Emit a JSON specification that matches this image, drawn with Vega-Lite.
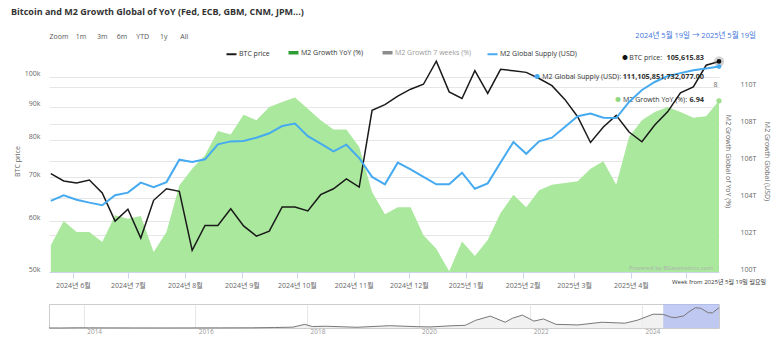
{
  "$schema": "https://vega.github.io/schema/vega-lite/v6.json",
  "padding": {"left": 11, "top": 8, "right": 1, "bottom": 2},
  "background": "white",
  "title": {"text": "Bitcoin and M2 Growth Global of YoY (Fed, ECB, GBM, CNM, JPM...)", "anchor": "start", "fontSize": 9, "fontWeight": "bold", "color": "#333333", "dx": -2, "offset": 15, "frame": "bounds"},
  "config": {
    "font": "Open Sans, Noto Sans CJK KR, sans-serif",
    "view": {"stroke": null},
    "axis": {"labelFontSize": 7, "titleFontSize": 7, "titleFontWeight": "normal", "labelColor": "#666666", "titleColor": "#666666", "gridColor": "#e6e6e6", "gridWidth": 1, "domainColor": "#ccd6eb", "tickColor": "#ccd6eb"}
  },
  "datasets": {
    "weekly": [
      {"date":"2024-05-20","btc":70900,"m2_yoy":1.08,"m2_supply":103840000000000},
      {"date":"2024-05-27","btc":69100,"m2_yoy":2.07,"m2_supply":104150000000000},
      {"date":"2024-06-03","btc":68600,"m2_yoy":1.62,"m2_supply":103910000000000},
      {"date":"2024-06-10","btc":69300,"m2_yoy":1.62,"m2_supply":103750000000000},
      {"date":"2024-06-17","btc":66200,"m2_yoy":1.22,"m2_supply":103610000000000},
      {"date":"2024-06-24","btc":59900,"m2_yoy":2.30,"m2_supply":104150000000000},
      {"date":"2024-07-01","btc":62500,"m2_yoy":2.16,"m2_supply":104290000000000},
      {"date":"2024-07-08","btc":56400,"m2_yoy":2.27,"m2_supply":104830000000000},
      {"date":"2024-07-15","btc":64500,"m2_yoy":0.81,"m2_supply":104590000000000},
      {"date":"2024-07-22","btc":67200,"m2_yoy":1.62,"m2_supply":104860000000000},
      {"date":"2024-07-29","btc":66600,"m2_yoy":3.51,"m2_supply":106070000000000},
      {"date":"2024-08-05","btc":54000,"m2_yoy":4.19,"m2_supply":105950000000000},
      {"date":"2024-08-12","btc":59000,"m2_yoy":4.73,"m2_supply":106090000000000},
      {"date":"2024-08-19","btc":59000,"m2_yoy":5.72,"m2_supply":106900000000000},
      {"date":"2024-08-26","btc":62600,"m2_yoy":5.57,"m2_supply":107060000000000},
      {"date":"2024-09-02","btc":58900,"m2_yoy":6.38,"m2_supply":107080000000000},
      {"date":"2024-09-09","btc":56800,"m2_yoy":6.15,"m2_supply":107260000000000},
      {"date":"2024-09-16","btc":57800,"m2_yoy":6.69,"m2_supply":107500000000000},
      {"date":"2024-09-23","btc":63000,"m2_yoy":6.89,"m2_supply":107890000000000},
      {"date":"2024-09-30","btc":63000,"m2_yoy":7.07,"m2_supply":108020000000000},
      {"date":"2024-10-07","btc":62100,"m2_yoy":6.62,"m2_supply":107340000000000},
      {"date":"2024-10-14","btc":65800,"m2_yoy":6.15,"m2_supply":106940000000000},
      {"date":"2024-10-21","btc":67200,"m2_yoy":5.78,"m2_supply":106520000000000},
      {"date":"2024-10-28","btc":69600,"m2_yoy":5.78,"m2_supply":106880000000000},
      {"date":"2024-11-04","btc":67600,"m2_yoy":5.07,"m2_supply":106160000000000},
      {"date":"2024-11-11","btc":88800,"m2_yoy":3.24,"m2_supply":105140000000000},
      {"date":"2024-11-18","btc":90600,"m2_yoy":2.34,"m2_supply":104740000000000},
      {"date":"2024-11-25","btc":93400,"m2_yoy":2.63,"m2_supply":105910000000000},
      {"date":"2024-12-02","btc":95700,"m2_yoy":2.63,"m2_supply":105550000000000},
      {"date":"2024-12-09","btc":97400,"m2_yoy":1.49,"m2_supply":105140000000000},
      {"date":"2024-12-16","btc":105700,"m2_yoy":0.94,"m2_supply":104740000000000},
      {"date":"2024-12-23","btc":94800,"m2_yoy":0.03,"m2_supply":104740000000000},
      {"date":"2024-12-30","btc":92600,"m2_yoy":1.24,"m2_supply":105370000000000},
      {"date":"2025-01-06","btc":102200,"m2_yoy":0.65,"m2_supply":104500000000000},
      {"date":"2025-01-13","btc":94300,"m2_yoy":1.30,"m2_supply":104790000000000},
      {"date":"2025-01-20","btc":102700,"m2_yoy":2.39,"m2_supply":105920000000000},
      {"date":"2025-01-27","btc":102200,"m2_yoy":3.13,"m2_supply":107030000000000},
      {"date":"2025-02-03","btc":101600,"m2_yoy":2.63,"m2_supply":106390000000000},
      {"date":"2025-02-10","btc":99400,"m2_yoy":3.31,"m2_supply":107060000000000},
      {"date":"2025-02-17","btc":96900,"m2_yoy":3.54,"m2_supply":107260000000000},
      {"date":"2025-02-24","btc":92300,"m2_yoy":3.61,"m2_supply":107840000000000},
      {"date":"2025-03-03","btc":86800,"m2_yoy":3.68,"m2_supply":108420000000000},
      {"date":"2025-03-10","btc":79200,"m2_yoy":4.19,"m2_supply":108560000000000},
      {"date":"2025-03-17","btc":83700,"m2_yoy":4.49,"m2_supply":108340000000000},
      {"date":"2025-03-24","btc":87200,"m2_yoy":3.54,"m2_supply":108320000000000},
      {"date":"2025-03-31","btc":82200,"m2_yoy":5.47,"m2_supply":109190000000000},
      {"date":"2025-04-07","btc":79400,"m2_yoy":6.15,"m2_supply":109840000000000},
      {"date":"2025-04-14","btc":84300,"m2_yoy":6.49,"m2_supply":110270000000000},
      {"date":"2025-04-21","btc":88300,"m2_yoy":6.69,"m2_supply":110590000000000},
      {"date":"2025-04-28","btc":94500,"m2_yoy":6.49,"m2_supply":110750000000000},
      {"date":"2025-05-05","btc":96500,"m2_yoy":6.25,"m2_supply":110900000000000},
      {"date":"2025-05-12","btc":104200,"m2_yoy":6.31,"m2_supply":111000000000000},
      {"date":"2025-05-19","btc":105615.83,"m2_yoy":6.94,"m2_supply":111105851732077}
    ],
    "history": [
      {"date":"2013-05-19","btc":120},
      {"date":"2013-08-01","btc":100},
      {"date":"2013-11-30","btc":1100},
      {"date":"2014-02-01","btc":800},
      {"date":"2014-06-01","btc":620},
      {"date":"2014-12-01","btc":380},
      {"date":"2015-06-01","btc":230},
      {"date":"2015-12-01","btc":420},
      {"date":"2016-06-15","btc":700},
      {"date":"2017-01-01","btc":1000},
      {"date":"2017-06-01","btc":2500},
      {"date":"2017-10-01","btc":4400},
      {"date":"2017-12-17","btc":19000},
      {"date":"2018-02-05","btc":7500},
      {"date":"2018-05-01","btc":9200},
      {"date":"2018-11-25","btc":3800},
      {"date":"2019-06-26","btc":12000},
      {"date":"2019-12-15","btc":7000},
      {"date":"2020-03-15","btc":5500},
      {"date":"2020-08-01","btc":11500},
      {"date":"2020-11-01","btc":14000},
      {"date":"2021-01-08","btc":40000},
      {"date":"2021-04-14","btc":62000},
      {"date":"2021-07-20","btc":30000},
      {"date":"2021-09-06","btc":51000},
      {"date":"2021-11-10","btc":67000},
      {"date":"2022-01-24","btc":36000},
      {"date":"2022-03-28","btc":47000},
      {"date":"2022-06-18","btc":19000},
      {"date":"2022-11-09","btc":16000},
      {"date":"2023-04-14","btc":30000},
      {"date":"2023-09-11","btc":25000},
      {"date":"2023-12-04","btc":41000},
      {"date":"2024-03-14","btc":72000},
      {"date":"2024-05-20","btc":70900},
      {"date":"2024-07-08","btc":56400},
      {"date":"2024-08-05","btc":54000},
      {"date":"2024-09-30","btc":63000},
      {"date":"2024-11-11","btc":88800},
      {"date":"2024-12-16","btc":105700},
      {"date":"2025-01-20","btc":102700},
      {"date":"2025-03-10","btc":79200},
      {"date":"2025-04-07","btc":79400},
      {"date":"2025-05-19","btc":105615.83}
    ],
    "range": [{"start":"2024-05-19","end":"2025-05-19"}]
  },
  "spacing": 32,
  "bounds": "flush",
  "vconcat": [
    {
      "width": 670,
      "height": 222,
      "data": {"name": "weekly"},
      "resolve": {"scale": {"y": "independent"}, "axis": {"x": "independent"}},
      "layer": [
        {
          "encoding": {
            "x": {"field": "date", "type": "temporal",
              "scale": {"type": "utc", "domain": [{"year": 2024, "month": 5, "date": 19, "utc": true}, {"year": 2025, "month": 5, "date": 19, "utc": true}]},
              "axis": null},
            "y": {"field": "m2_yoy", "type": "quantitative", "scale": {"domain": [0, 9], "nice": false},
              "axis": {"orient": "right", "title": "M2 Growth Global of YoY (%)", "values": [1.5, 3, 4.5, 6, 7.5], "labelAlign": "right", "labelPadding": -2, "labelOffset": -3, "ticks": false, "tickSize": 0, "domain": false, "grid": true, "titleX": 8, "titleBaseline": "middle"}}
          },
          "layer": [
            {"mark": {"type": "area", "color": "#a9e89d", "opacity": 1}},
            {
              "transform": [{"filter": "+toDate(datum.date) === +toDate('2025-05-19')"}],
              "mark": {"type": "point", "filled": true, "size": 28, "color": "#9fe08f", "opacity": 1}
            },
            {
              "transform": [{"filter": "+toDate(datum.date) === +toDate('2025-05-19')"}],
              "mark": {"type": "text", "align": "center", "baseline": "middle", "dx": -101, "dy": -0.5, "fontSize": 5.5, "color": "#8fd880"},
              "encoding": {"text": {"value": "●"}}
            },
            {
              "transform": [{"filter": "+toDate(datum.date) === +toDate('2025-05-19')"}],
              "mark": {"type": "text", "align": "right", "baseline": "middle", "dx": -32, "dy": -0.5, "fontSize": 7, "color": "#333333"},
              "encoding": {"text": {"value": "M2 Growth YoY (%):"}}
            },
            {
              "transform": [{"filter": "+toDate(datum.date) === +toDate('2025-05-19')"}],
              "mark": {"type": "text", "align": "right", "baseline": "middle", "dx": -15, "dy": -0.5, "fontSize": 7.3, "fontWeight": "bold", "color": "#333333"},
              "encoding": {"text": {"field": "m2_yoy", "type": "quantitative", "format": ".2f"}}
            }
          ]
        },
        {
          "encoding": {
            "x": {"field": "date", "type": "temporal", "scale": {"type": "utc"},
              "axis": {"orient": "bottom", "format": "%Y년 %-m월", "labelExpr": "utcyear(datum.value) === 2025 && utcmonth(datum.value) === 4 ? '' : datum.label", "tickCount": {"interval": "month", "step": 1}, "title": null, "grid": false, "tickSize": 6, "labelPadding": 3, "domain": true}},
            "y": {"field": "btc", "type": "quantitative", "scale": {"type": "log", "domain": [50000, 110000], "nice": false},
              "axis": {"orient": "left", "values": [50000, 60000, 70000, 80000, 90000, 100000], "labelExpr": "datum.value / 1000 + 'k'", "title": "BTC price", "ticks": false, "tickSize": 0, "domain": false, "grid": true, "labelPadding": 9, "labelOffset": -3, "titleX": -32, "titleBaseline": "middle"}}
          },
          "layer": [
            {
              "mark": {"type": "line", "strokeWidth": 1.5},
              "encoding": {
                "color": {"datum": "BTC price", "type": "nominal",
                  "scale": {"domain": ["BTC price", "M2 Growth YoY (%)", "M2 Growth 7 weeks (%)", "M2 Global Supply (USD)"], "range": ["#1a1a1a", "#2e9e34", "#8c8c8c", "#46aaf0"]},
                  "legend": {"orient": "none", "legendX": 179, "legendY": -1, "direction": "horizontal", "title": null, "symbolType": "stroke", "symbolSize": 100, "symbolStrokeWidth": 2, "labelFontSize": 7, "labelColor": "#333333", "columnPadding": 11, "labelOffset": 4, "padding": 0,
                    "encode": {
                      "symbols": {"update": {"strokeWidth": {"signal": "datum.value === 'M2 Growth YoY (%)' || datum.value === 'M2 Growth 7 weeks (%)' ? 3.5 : 2"}}},
                      "labels": {"update": {"fill": {"signal": "datum.value === 'M2 Growth 7 weeks (%)' ? '#9a9a9a' : '#333333'"}}}
                    }}}
              }
            },
            {
              "transform": [{"filter": "+toDate(datum.date) === +toDate('2025-05-19')"}],
              "mark": {"type": "point", "filled": true, "size": 110, "color": "#888888", "opacity": 0.35}
            },
            {
              "transform": [{"filter": "+toDate(datum.date) === +toDate('2025-05-19')"}],
              "mark": {"type": "point", "filled": true, "size": 22, "color": "#111111", "opacity": 1}
            },
            {
              "transform": [{"filter": "+toDate(datum.date) === +toDate('2025-05-19')"}],
              "mark": {"type": "text", "align": "center", "baseline": "middle", "dx": -94, "dy": -3.6, "fontSize": 5.5, "color": "#111111"},
              "encoding": {"text": {"value": "●"}}
            },
            {
              "transform": [{"filter": "+toDate(datum.date) === +toDate('2025-05-19')"}],
              "mark": {"type": "text", "align": "right", "baseline": "middle", "dx": -57, "dy": -3.6, "fontSize": 7, "color": "#333333"},
              "encoding": {"text": {"value": "BTC price:"}}
            },
            {
              "transform": [{"filter": "+toDate(datum.date) === +toDate('2025-05-19')"}],
              "mark": {"type": "text", "align": "right", "baseline": "middle", "dx": -15, "dy": -3.6, "fontSize": 7.3, "fontWeight": "bold", "color": "#333333"},
              "encoding": {"text": {"field": "btc", "type": "quantitative", "format": ",.2f"}}
            },
            {
              "transform": [{"filter": "+toDate(datum.date) === +toDate('2025-05-19')"}],
              "mark": {"type": "text", "align": "right", "baseline": "middle", "dx": 37, "dy": -14, "fontSize": 7.5, "color": "#4173d9"},
              "encoding": {
                "y": {"datum": 110000, "type": "quantitative", "axis": {"orient": "left"}},
                "text": {"value": "2024년 5월 19일 → 2025년 5월 19일"}
              }
            },
            {
              "transform": [{"filter": "+toDate(datum.date) === +toDate('2025-05-19')"}],
              "mark": {"type": "text", "align": "right", "baseline": "middle", "dx": -6, "dy": -4, "fontSize": 6, "color": "#b0b0b0"},
              "encoding": {
                "y": {"datum": 50000, "type": "quantitative", "axis": {"orient": "left"}},
                "text": {"value": "Powered by BGeometrics.com"}
              }
            },
            {
              "transform": [{"filter": "+toDate(datum.date) === +toDate('2025-05-19')"}],
              "mark": {"type": "text", "align": "center", "baseline": "middle", "dx": 0, "dy": 10, "fontSize": 6, "color": "#333333"},
              "encoding": {
                "y": {"datum": 50000, "type": "quantitative", "axis": {"orient": "left"}},
                "text": {"value": "Week from 2025년 5월 19일 월요일"}
              }
            }
          ]
        },
        {
          "encoding": {
            "x": {"field": "date", "type": "temporal", "scale": {"type": "utc"},
              "axis": {"orient": "top", "title": "Zoom\u00a0\u00a0\u00a0\u00a01m\u00a0\u00a0\u00a0\u00a0\u00a0\u00a03m\u00a0\u00a0\u00a0\u00a0\u00a06m\u00a0\u00a0\u00a0\u00a0\u00a0YTD\u00a0\u00a0\u00a0\u00a0\u00a0\u00a01y\u00a0\u00a0\u00a0\u00a0\u00a0\u00a0\u00a0All", "labels": false, "ticks": false, "domain": false, "grid": false, "titleAnchor": "start", "titleAlign": "left", "titleX": 0, "titleY": -14, "titleBaseline": "middle", "titleColor": "#555555", "titleFontSize": 7}},
            "y": {"field": "m2_supply", "type": "quantitative", "scale": {"domain": [100000000000000, 112000000000000], "nice": false, "zero": false},
              "axis": {"orient": "right", "values": [100000000000000, 102000000000000, 104000000000000, 106000000000000, 108000000000000, 110000000000000], "labelExpr": "round(datum.value / 1e12) + 'T'", "title": "M2 Growth Global (USD)", "ticks": false, "tickSize": 0, "domain": false, "grid": false, "labelPadding": 21, "labelOffset": -3, "titleX": 47, "titleBaseline": "middle"}}
          },
          "layer": [
            {
              "mark": {"type": "line", "strokeWidth": 2},
              "encoding": {"color": {"datum": "M2 Global Supply (USD)", "type": "nominal"}}
            },
            {
              "transform": [{"filter": "+toDate(datum.date) === +toDate('2025-05-19')"}],
              "mark": {"type": "point", "filled": true, "size": 22, "color": "#46aaf0", "opacity": 1}
            },
            {
              "transform": [{"filter": "+toDate(datum.date) === +toDate('2025-05-19')"}],
              "mark": {"type": "text", "align": "center", "baseline": "middle", "dx": -182, "dy": 10.5, "fontSize": 5.5, "color": "#46aaf0"},
              "encoding": {"text": {"value": "●"}}
            },
            {
              "transform": [{"filter": "+toDate(datum.date) === +toDate('2025-05-19')"}],
              "mark": {"type": "text", "align": "right", "baseline": "middle", "dx": -98, "dy": 10.5, "fontSize": 7, "color": "#333333"},
              "encoding": {"text": {"value": "M2 Global Supply (USD):"}}
            },
            {
              "transform": [{"filter": "+toDate(datum.date) === +toDate('2025-05-19')"}],
              "mark": {"type": "text", "align": "right", "baseline": "middle", "dx": -15, "dy": 10.5, "fontSize": 7.3, "fontWeight": "bold", "color": "#333333"},
              "encoding": {"text": {"field": "m2_supply", "type": "quantitative", "format": ",.2f"}}
            }
          ]
        }
      ]
    },
    {
      "width": 670,
      "height": 24,
      "view": {"stroke": "#cccccc"},
      "layer": [
        {
          "data": {"name": "history"},
          "mark": {"type": "area", "color": "#eeeeee", "opacity": 0.8},
          "encoding": {
            "x": {"field": "date", "type": "temporal",
              "scale": {"type": "utc", "domain": [{"year": 2013, "month": 5, "date": 19, "utc": true}, {"year": 2025, "month": 5, "date": 19, "utc": true}]},
              "axis": {"orient": "bottom", "format": "%Y", "tickCount": {"interval": "year", "step": 2}, "title": null, "grid": true, "gridColor": "#e6e6e6", "ticks": false, "tickSize": 0, "domain": false, "labelAlign": "left", "labelOffset": 3, "labelPadding": 0, "labelFontSize": 6.5, "labelColor": "#999999"}},
            "y": {"field": "btc", "type": "quantitative", "scale": {"domain": [0, 125000], "nice": false}, "axis": {"orient": "left", "title": null, "labels": false, "ticks": false, "domain": false, "grid": false}}
          }
        },
        {
          "data": {"name": "range"},
          "mark": {"type": "rect", "color": "#a9b6ef", "opacity": 0.7},
          "encoding": {
            "x": {"field": "start", "type": "temporal", "scale": {"type": "utc"}, "axis": {"orient": "bottom"}},
            "x2": {"field": "end"}
          }
        },
        {
          "data": {"name": "history"},
          "mark": {"type": "line", "color": "#777777", "strokeWidth": 1},
          "encoding": {
            "x": {"field": "date", "type": "temporal", "scale": {"type": "utc"}, "axis": {"orient": "bottom"}},
            "y": {"field": "btc", "type": "quantitative", "axis": {"orient": "left"}}
          }
        }
      ]
    }
  ]
}
